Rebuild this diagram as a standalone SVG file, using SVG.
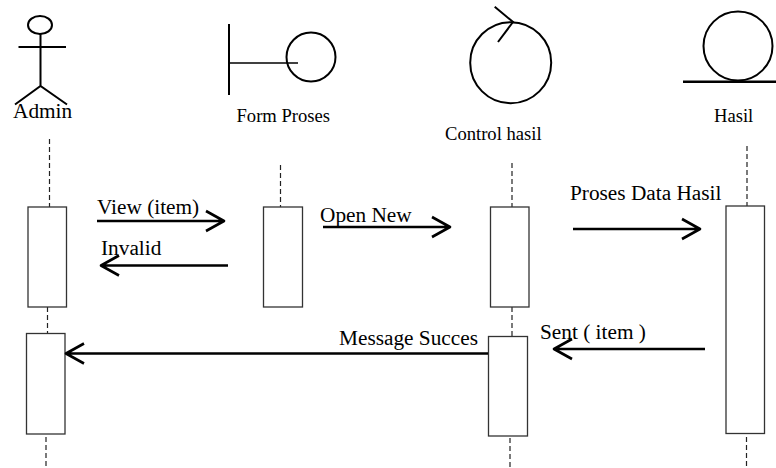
<svg xmlns="http://www.w3.org/2000/svg" width="776" height="468" viewBox="0 0 776 468">
<style>
text{font-family:"Liberation Serif","Times New Roman",serif;font-size:21.300px;fill:#000}
.n{font-size:18.600px}
.s{fill:none;stroke:#000;stroke-width:2}
.b{fill:#fff;stroke:#333;stroke-width:1.3}
.l{fill:none;stroke:#222;stroke-width:1.2;stroke-dasharray:5 3}
.m{fill:none;stroke:#000;stroke-width:2.6;stroke-linejoin:round}
</style>
<rect width="776" height="468" fill="#fff"/>
<g id="lifelines">
<path class="l" d="M49.500 139V207M47.500 307V334M46 437V468M280.500 165V207M512 163V207M512 307V336M510 438V468M747 146V206M746.500 437V468"/>
</g>
<g id="node-admin">
<ellipse class="s" cx="40" cy="25" rx="12" ry="9"/>
<path class="s" d="M18.500 47H66M40.500 34V86M15 104.500L40.500 86L67 104.500"/>
<text x="13" y="118">Admin</text>
<rect class="b" x="28" y="207" width="38.500" height="100"/>
<rect class="b" x="26.500" y="333.500" width="38.500" height="100.500"/>
</g>
<g id="node-form">
<path class="s" d="M229 24V95"/>
<path class="s" d="M230 63H298" style="stroke-width:1.600"/>
<circle class="s" cx="311" cy="57" r="24.500"/>
<text class="n" x="236.500" y="122">Form Proses</text>
<rect class="b" x="263.500" y="207" width="39" height="100"/>
</g>
<g id="node-control">
<circle class="s" cx="510.700" cy="62.700" r="40.500"/>
<path class="s" d="M494.700 6.700L513 22L498 42"/>
<text class="n" x="445" y="140">Control hasil</text>
<rect class="b" x="490.500" y="207" width="38.500" height="100"/>
<rect class="b" x="488.500" y="336.500" width="39" height="99.500"/>
</g>
<g id="node-hasil">
<circle class="s" cx="738" cy="46" r="34.500"/>
<path class="s" d="M683 81.700H776" style="stroke-width:2.400"/>
<text class="n" x="714" y="122">Hasil</text>
<rect class="b" x="726" y="206" width="38.500" height="227.500"/>
</g>
<g id="connectors">
<path class="m" d="M97 221H223M206 211L224 221L206 231"/>
<path class="m" d="M323 227H449M432 217L450 227L432 237"/>
<path class="m" d="M573 229H699M682 219L700 229L682 239"/>
<path class="m" d="M228 265.500H102M119 255.500L101 265.500L119 275.500"/>
<path class="m" d="M488 353.500H67M84 343.500L66 353.500L84 363.500"/>
<path class="m" d="M705 349H555M572 339L554 349L572 359"/>
</g>
<g id="labels">
<text x="97" y="214">View (item)</text>
<text x="320" y="222">Open New</text>
<text x="570" y="200">Proses Data Hasil</text>
<text x="101" y="255">Invalid</text>
<text x="339" y="345">Message Succes</text>
<text x="540" y="339">Sent ( item )</text>
</g>
</svg>
